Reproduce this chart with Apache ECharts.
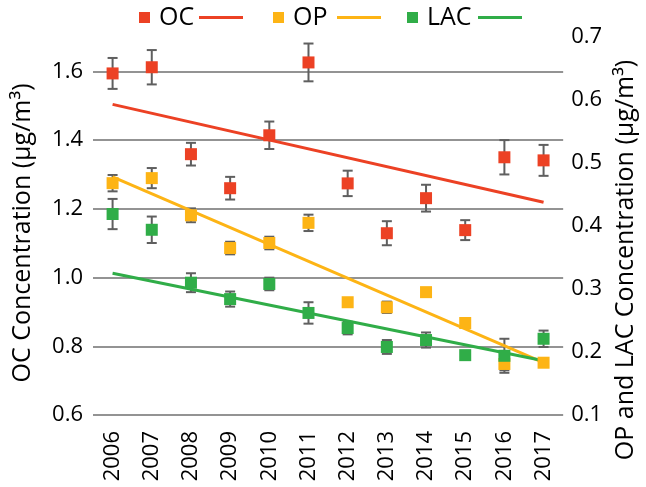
<!DOCTYPE html>
<html>
<head>
<meta charset="utf-8">
<script src="https://cdn.jsdelivr.net/npm/echarts@6/dist/echarts.min.js"></script>
<style>
  html, body { margin: 0; padding: 0; background: #fff; }
  #chart { width: 646px; height: 487px; }
</style>
</head>
<body>
<div id="chart"></div>
<script>
// 年份
var years = ['2006', '2007', '2008', '2009', '2010', '2011', '2012', '2013', '2014', '2015', '2016', '2017'];

// OC（左轴）
var ocValues = [1.594, 1.612, 1.359, 1.26, 1.414, 1.626, 1.274, 1.129, 1.231, 1.138, 1.35, 1.341];
var ocErrors = [0.045, 0.05, 0.033, 0.033, 0.04, 0.055, 0.037, 0.035, 0.039, 0.029, 0.05, 0.045];

// OP（右轴）
var opValues = [0.468, 0.476, 0.417, 0.365, 0.373, 0.405, 0.279, 0.271, 0.295, 0.246, 0.181, 0.183];
var opErrors = [0.013, 0.016, 0.011, 0.01, 0.01, 0.013, 0.006, 0.009, 0.005, 0.004, 0.01, 0.005];

// LAC（右轴）
var lacValues = [0.419, 0.394, 0.31, 0.284, 0.308, 0.262, 0.238, 0.208, 0.219, 0.195, 0.194, 0.221];
var lacErrors = [0.024, 0.021, 0.015, 0.012, 0.01, 0.017, 0.01, 0.011, 0.012, 0.004, 0.027, 0.013];

// 趋势线两端（2006, 2017）
var ocTrend = [1.504, 1.219];
var opTrend = [0.478, 0.183];
var lacTrend = [0.325, 0.186];

var leftTicks = [0.6, 0.8, 1.0, 1.2, 1.4, 1.6];

var FONT = 'Open Sans';
var RED = '#ec4124', ORANGE = '#fdb415', GREEN = '#30ad48';

function errorData(values, errors) {
  return values.map(function (v, i) { return [i, v - errors[i], v + errors[i]]; });
}

function trendData(ends) {
  return [[years[0], ends[0]], [years[years.length - 1], ends[1]]];
}

function renderErrorBar(params, api) {
  var x = api.value(0);
  var lo = api.coord([x, api.value(1)]);
  var hi = api.coord([x, api.value(2)]);
  var half = 5;
  var style = { stroke: '#5f5f5f', lineWidth: 2 };
  return {
    type: 'group',
    children: [
      { type: 'line', shape: { x1: lo[0], y1: lo[1], x2: hi[0], y2: hi[1] }, style: style },
      { type: 'line', shape: { x1: lo[0] - half, y1: lo[1], x2: lo[0] + half, y2: lo[1] }, style: style },
      { type: 'line', shape: { x1: hi[0] - half, y1: hi[1], x2: hi[0] + half, y2: hi[1] }, style: style }
    ]
  };
}

function errorSeries(name, values, errors, axisIndex) {
  return {
    name: name + ' err',
    type: 'custom',
    yAxisIndex: axisIndex,
    renderItem: renderErrorBar,
    encode: { x: 0, y: [1, 2] },
    data: errorData(values, errors),
    z: 2,
    silent: true
  };
}

function pointSeries(name, values, axisIndex, color) {
  return {
    name: name,
    type: 'scatter',
    yAxisIndex: axisIndex,
    symbol: 'rect',
    symbolSize: 12,
    itemStyle: { color: color, opacity: 1 },
    data: values,
    z: 4
  };
}

function trendSeries(name, ends, axisIndex, color) {
  return {
    name: name + ' trend',
    type: 'line',
    yAxisIndex: axisIndex,
    symbol: 'none',
    color: color,
    lineStyle: { color: color, width: 3 },
    data: trendData(ends),
    z: 3
  };
}

// 图例：方块 + 文字
function legendPoint(name, left) {
  return {
    data: [{ name: name, icon: 'rect' }],
    left: left,
    top: 5,
    padding: 0,
    itemWidth: 11,
    itemHeight: 11,
    itemStyle: { opacity: 1 },
    textStyle: { fontFamily: FONT, fontSize: 25, color: '#000', padding: [0, 0, 0, 4] }
  };
}

// 图例：趋势线（无文字）
function legendLine(name, left) {
  return {
    data: [{ name: name, icon: 'rect' }],
    left: left,
    top: 16,
    padding: 0,
    itemWidth: 44,
    itemHeight: 3,
    formatter: function () { return ''; }
  };
}

var chart = echarts.init(document.getElementById('chart'));

var option = {
  animation: false,
  textStyle: { fontFamily: FONT },
  legend: [
    legendPoint('OC', 139),
    legendLine('OC trend', 199),
    legendPoint('OP', 273),
    legendLine('OP trend', 337),
    legendPoint('LAC', 407),
    legendLine('LAC trend', 478)
  ],
  grid: { left: 93, right: 82, top: 37, bottom: 72 },
  xAxis: {
    type: 'category',
    data: years,
    axisLine: { show: false },
    axisTick: { show: false },
    axisLabel: { rotate: 90, fontSize: 22, color: '#000', fontFamily: FONT, margin: 16 }
  },
  yAxis: [
    {
      type: 'value',
      min: 0.6,
      max: 1.7,
      interval: 0.2,
      position: 'left',
      name: 'OC Concentration (μg/m³)',
      nameLocation: 'middle',
      nameGap: 58,
      nameRotate: 90,
      nameTextStyle: { fontSize: 25, color: '#000', fontFamily: FONT, padding: [0, 14, 0, 0] },
      axisLine: { show: false },
      axisTick: { show: false },
      axisLabel: {
        fontSize: 22, color: '#000', fontFamily: FONT, margin: 10,
        showMaxLabel: false,
        formatter: function (v) { return leftTicks.indexOf(+v.toFixed(1)) >= 0 ? v.toFixed(1) : ''; }
      },
      splitLine: {
        show: true,
        lineStyle: {
          color: ['#939393', '#939393', '#939393', '#939393', '#939393', '#939393', 'rgba(0,0,0,0)'],
          width: 2
        }
      }
    },
    {
      type: 'value',
      min: 0.1,
      max: 0.7,
      interval: 0.1,
      position: 'right',
      name: 'OP and LAC Concentration (μg/m³)',
      nameLocation: 'middle',
      nameGap: 49,
      nameRotate: 90,
      nameTextStyle: { fontSize: 25, color: '#000', fontFamily: FONT, padding: [0, 68, 0, 0] },
      axisLine: { show: false },
      axisTick: { show: false },
      axisLabel: {
        fontSize: 22, color: '#000', fontFamily: FONT, margin: 8,
        formatter: function (v) { return v.toFixed(1); }
      },
      splitLine: { show: false }
    }
  ],
  series: [
    errorSeries('OC', ocValues, ocErrors, 0),
    errorSeries('OP', opValues, opErrors, 1),
    errorSeries('LAC', lacValues, lacErrors, 1),
    trendSeries('OC', ocTrend, 0, RED),
    trendSeries('OP', opTrend, 1, ORANGE),
    trendSeries('LAC', lacTrend, 1, GREEN),
    pointSeries('OC', ocValues, 0, RED),
    pointSeries('OP', opValues, 1, ORANGE),
    pointSeries('LAC', lacValues, 1, GREEN)
  ]
};

chart.setOption(option);
</script>
</body>
</html>
